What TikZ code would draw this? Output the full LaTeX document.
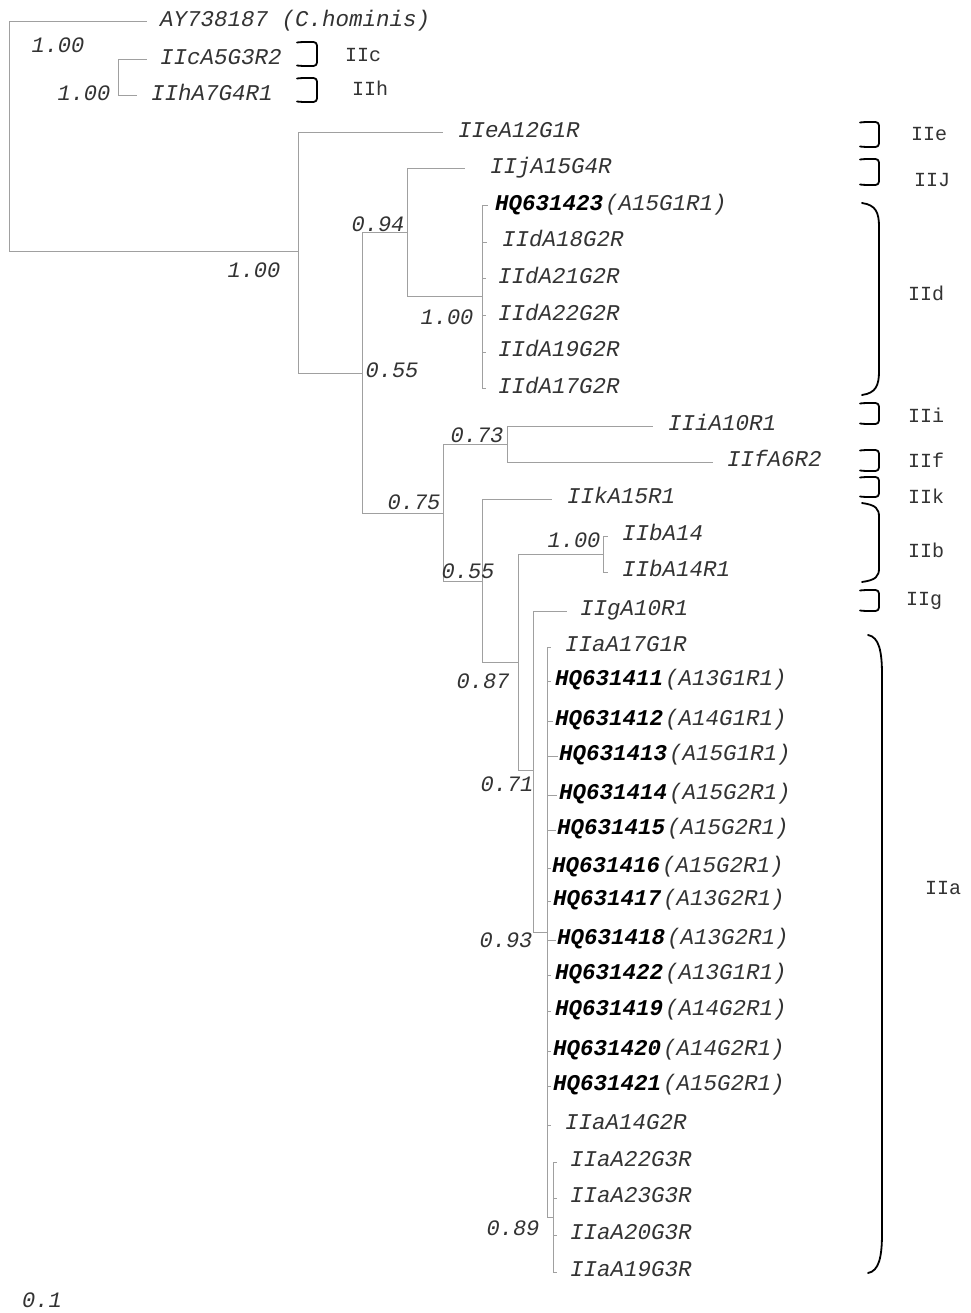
\documentclass[tikz,border=0pt]{standalone}
\usepackage{fontspec}
\newfontfamily\monof{Liberation Mono}
\definecolor{branchgray}{HTML}{A0A0A0}
\definecolor{txtgray}{HTML}{333333}
\newcommand{\hq}[2]{{\color{black}\bfseries #1}\kern2pt(#2)}
\newcommand{\lf}[5]{\coordinate (#1) at (#2,#3); \node[leaf] (#1t) at (#4,#3+4.5) {#5};}
\newcommand{\sbrk}[4]{\draw[brk, rounded corners=3.5pt] (#1,#3+0.5) -- (#1+4,#3) -- (#2,#3) -- (#2,#4) -- (#1+4,#4) -- (#1,#4-0.5);}
\newcommand{\lbrk}[5]{\draw[brk] (#1,#3) .. controls (#2-3,#3+2) and (#2,#3+#5*0.4) .. (#2,#3+#5) -- (#2,#4-#5) .. controls (#2,#4-#5*0.4) and (#2-3,#4-2) .. (#1,#4);}
\begin{document}
\begin{tikzpicture}[x=1pt,y=-1pt,
  br/.style={draw=branchgray, line width=1pt},
  leaf/.style={anchor=base west, inner sep=0pt, font=\monof\itshape\fontsize{22.5}{24}\selectfont, text=txtgray},
  sup/.style={anchor=center, inner sep=0pt, font=\monof\itshape\fontsize{22}{24}\selectfont, text=txtgray},
  clade/.style={anchor=west, inner sep=0pt, font=\monof\fontsize{20}{22}\selectfont, text=txtgray},
  brk/.style={draw=black, line width=1.8pt, line cap=round}]
\fill[white] (0,0) rectangle (970,1313);
\useasboundingbox (0,0) rectangle (970,1313);

% internal nodes
\coordinate (R) at (9,22);
\coordinate (CH) at (118,78);
\coordinate (A) at (298,252);
\coordinate (B) at (362,373);
\coordinate (C) at (407,233);
\coordinate (D) at (482,297);
\coordinate (E) at (443,513);
\coordinate (F) at (507,444);
\coordinate (G) at (482,581);
\coordinate (H) at (518,662);
\coordinate (I) at (603,554);
\coordinate (J) at (533,770);
\coordinate (K) at (547,932);
\coordinate (L) at (553,1217);

% leaves
\lf{ay}{147}{22}{160}{AY738187 (C.hominis)}
\lf{c1}{147}{60}{160}{IIcA5G3R2}
\lf{h1}{137}{96}{151}{IIhA7G4R1}
\lf{e1}{443}{133}{458}{IIeA12G1R}
\lf{j1}{465}{169}{490}{IIjA15G4R}
\lf{d1}{488}{206}{495}{\hq{HQ631423}{A15G1R1}}
\lf{d2}{487}{242.5}{502}{IIdA18G2R}
\lf{d3}{486}{279}{498}{IIdA21G2R}
\lf{d4}{486}{315.5}{498}{IIdA22G2R}
\lf{d5}{486}{352}{498}{IIdA19G2R}
\lf{d6}{486}{388.5}{498}{IIdA17G2R}
\lf{i1}{653}{426}{668}{IIiA10R1}
\lf{f1}{713}{462}{727}{IIfA6R2}
\lf{k1}{552}{499}{567}{IIkA15R1}
\lf{b1}{608}{536}{622}{IIbA14}
\lf{b2}{608}{572}{622}{IIbA14R1}
\lf{g1}{567}{611}{580}{IIgA10R1}
\lf{a1}{551}{647}{565}{IIaA17G1R}
\lf{a2}{551}{681}{555}{\hq{HQ631411}{A13G1R1}}
\lf{a3}{553}{721}{555}{\hq{HQ631412}{A14G1R1}}
\lf{a4}{558}{756}{559}{\hq{HQ631413}{A15G1R1}}
\lf{a5}{557}{795}{559}{\hq{HQ631414}{A15G2R1}}
\lf{a6}{556}{830}{557}{\hq{HQ631415}{A15G2R1}}
\lf{a7}{551}{868}{552}{\hq{HQ631416}{A15G2R1}}
\lf{a8}{551}{901}{553}{\hq{HQ631417}{A13G2R1}}
\lf{a9}{556}{940}{557}{\hq{HQ631418}{A13G2R1}}
\lf{a10}{551}{975}{555}{\hq{HQ631422}{A13G1R1}}
\lf{a11}{551}{1011}{555}{\hq{HQ631419}{A14G2R1}}
\lf{a12}{551}{1051}{553}{\hq{HQ631420}{A14G2R1}}
\lf{a13}{551}{1086}{553}{\hq{HQ631421}{A15G2R1}}
\lf{a14}{551}{1125}{565}{IIaA14G2R}
\lf{l1}{557}{1162}{570}{IIaA22G3R}
\lf{l2}{557}{1198}{570}{IIaA23G3R}
\lf{l3}{557}{1235}{570}{IIaA20G3R}
\lf{l4}{557}{1272}{570}{IIaA19G3R}

% branches
\draw[br] (R) -- (ay);
\draw[br] (R) |- (A);
\draw[br] (CH) |- (c1);
\draw[br] (CH) |- (h1);
\draw[br] (A) |- (e1);
\draw[br] (A) |- (B);
\draw[br] (B) |- (C);
\draw[br] (B) |- (E);
\draw[br] (C) |- (j1);
\draw[br] (C) |- (D);
\foreach \n in {d1,d2,d3,d4,d5,d6} \draw[br] (D) |- (\n);
\draw[br] (E) |- (F);
\draw[br] (E) |- (G);
\draw[br] (F) |- (i1);
\draw[br] (F) |- (f1);
\draw[br] (G) |- (k1);
\draw[br] (G) |- (H);
\draw[br] (H) |- (I);
\draw[br] (H) |- (J);
\draw[br] (I) |- (b1);
\draw[br] (I) |- (b2);
\draw[br] (J) |- (g1);
\draw[br] (J) |- (K);
\foreach \n in {a1,a2,a3,a4,a5,a6,a7,a8,a9,a10,a11,a12,a13,a14} \draw[br] (K) |- (\n);
\draw[br] (K) |- (L);
\foreach \n in {l1,l2,l3,l4} \draw[br] (L) |- (\n);

% support values
\node[sup] (s1) at (58,45) {1.00};
\node[sup] (s2) at (84,93) {1.00};
\node[sup] (s3) at (254,270) {1.00};
\node[sup] (s4) at (378,224) {0.94};
\node[sup] (s5) at (392,370) {0.55};
\node[sup] (s6) at (447,317) {1.00};
\node[sup] (s7) at (477,435) {0.73};
\node[sup] (s8) at (414,502) {0.75};
\node[sup] (s9) at (468,571) {0.55};
\node[sup] (s10) at (574,540) {1.00};
\node[sup] (s11) at (483,681) {0.87};
\node[sup] (s12) at (507,784) {0.71};
\node[sup] (s13) at (506,940) {0.93};
\node[sup] (s14) at (513,1228) {0.89};
\node[sup] (scale) at (42,1300) {0.1};

% brackets
\sbrk{297}{317}{42}{66}
\sbrk{297}{317}{78}{102}
\sbrk{860}{879}{122}{147}
\sbrk{860}{879}{159}{185}
\lbrk{862}{879}{203}{395}{24}
\sbrk{860}{879}{403}{424}
\sbrk{860}{879}{450}{471}
\sbrk{860}{879}{477}{497}
\lbrk{862}{879}{503}{582}{14}
\sbrk{860}{879}{590}{611}
\lbrk{868}{882}{635}{1273}{40}

% clade labels
\node[clade] (cc) at (345,55) {IIc};
\node[clade] (ch) at (352,88) {IIh};
\node[clade] (ce) at (911,134) {IIe};
\node[clade] (cj) at (914,180) {IIJ};
\node[clade] (cd) at (908,293) {IId};
\node[clade] (ci) at (908,415) {IIi};
\node[clade] (cf) at (908,460) {IIf};
\node[clade] (ck) at (908,496) {IIk};
\node[clade] (cb) at (908,550) {IIb};
\node[clade] (cg) at (906,601) {IIg};
\node[clade] (ca) at (925,888) {IIa};
\end{tikzpicture}
\end{document}
